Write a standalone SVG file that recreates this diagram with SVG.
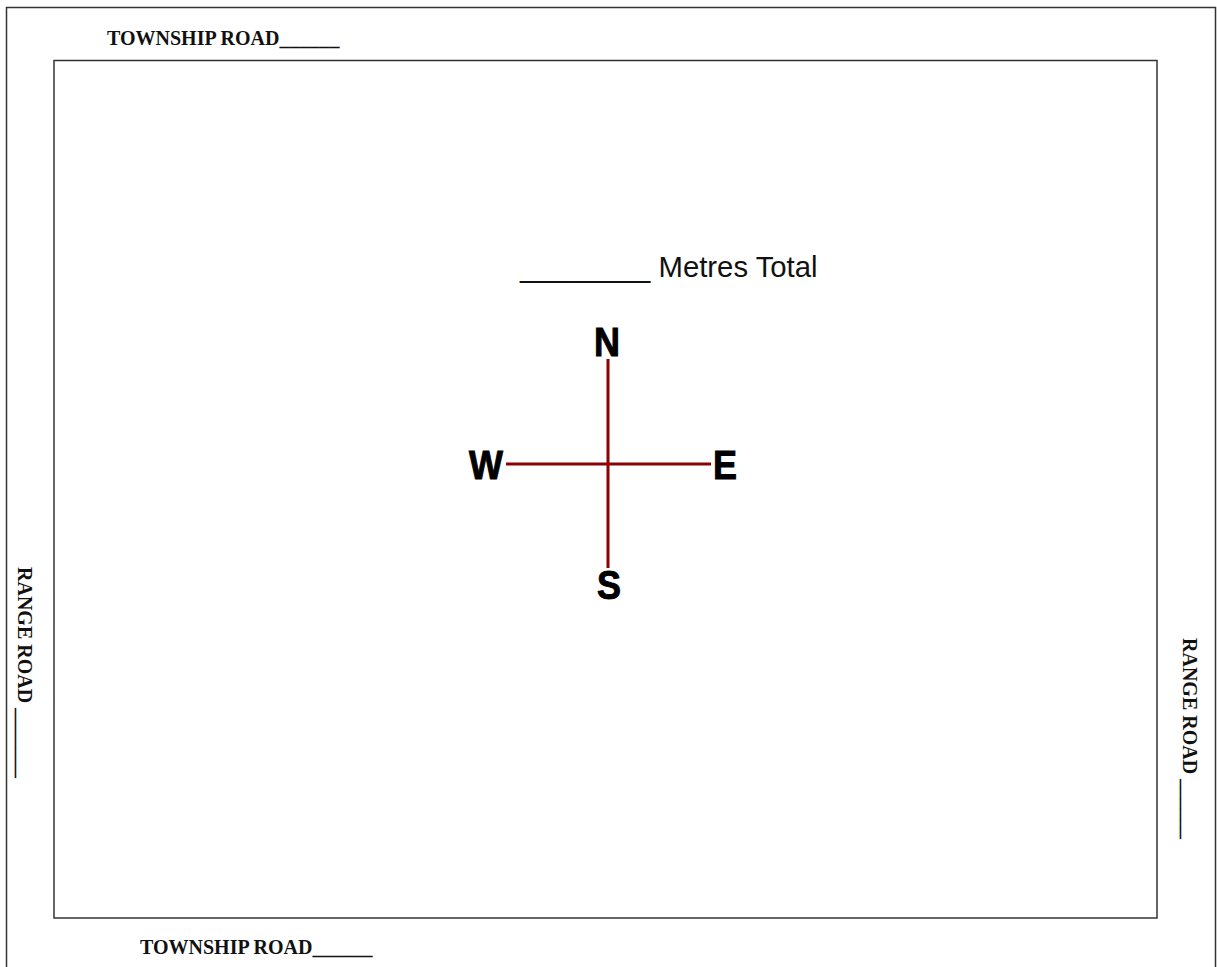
<svg xmlns="http://www.w3.org/2000/svg" width="1217" height="967" viewBox="0 0 1217 967">
<style>
.road{font-family:"Liberation Serif","Times New Roman",serif;font-weight:bold;font-size:20px;fill:#111}
.dir{font-family:"Liberation Sans",Arial,sans-serif;font-weight:bold;font-size:36px;fill:#000;stroke:#000;stroke-width:0.9;text-anchor:middle}
.frame{fill:none;stroke:#333;stroke-width:1.5}
.axis{stroke:#8b0000;stroke-width:3}
</style>
<rect width="1217" height="967" fill="#fff"/>
<g id="outer-frame"><path class="frame" d="M6.5,968 V7.5 H1215.5 V968"/></g>
<g id="parcel"><rect class="frame" x="54" y="60.5" width="1103" height="857.5"/></g>
<g id="top-road"><text class="road" x="107" y="45">TOWNSHIP ROAD______</text></g>
<g id="bottom-road"><text class="road" x="140" y="954">TOWNSHIP ROAD______</text></g>
<g id="left-road"><text class="road" transform="translate(18,567) rotate(90)">RANGE ROAD _______</text></g>
<g id="right-road"><text class="road" transform="translate(1183,638) rotate(90)">RANGE ROAD ______</text></g>
<g id="metres"><text x="520" y="277" font-family="Liberation Sans,Arial,sans-serif" font-size="29.3" fill="#111">________ Metres Total</text></g>
<g id="connectors">
<line class="axis" x1="608" y1="359" x2="608" y2="568"/>
<line class="axis" x1="506" y1="464" x2="711" y2="464"/>
</g>
<g id="north"><text class="dir" transform="translate(607,356) scale(1,1.12)">N</text></g>
<g id="south"><text class="dir" transform="translate(609,599) scale(1,1.12)">S</text></g>
<g id="west"><text class="dir" transform="translate(486,479) scale(1,1.12)">W</text></g>
<g id="east"><text class="dir" transform="translate(725,479) scale(1,1.12)">E</text></g>
</svg>
